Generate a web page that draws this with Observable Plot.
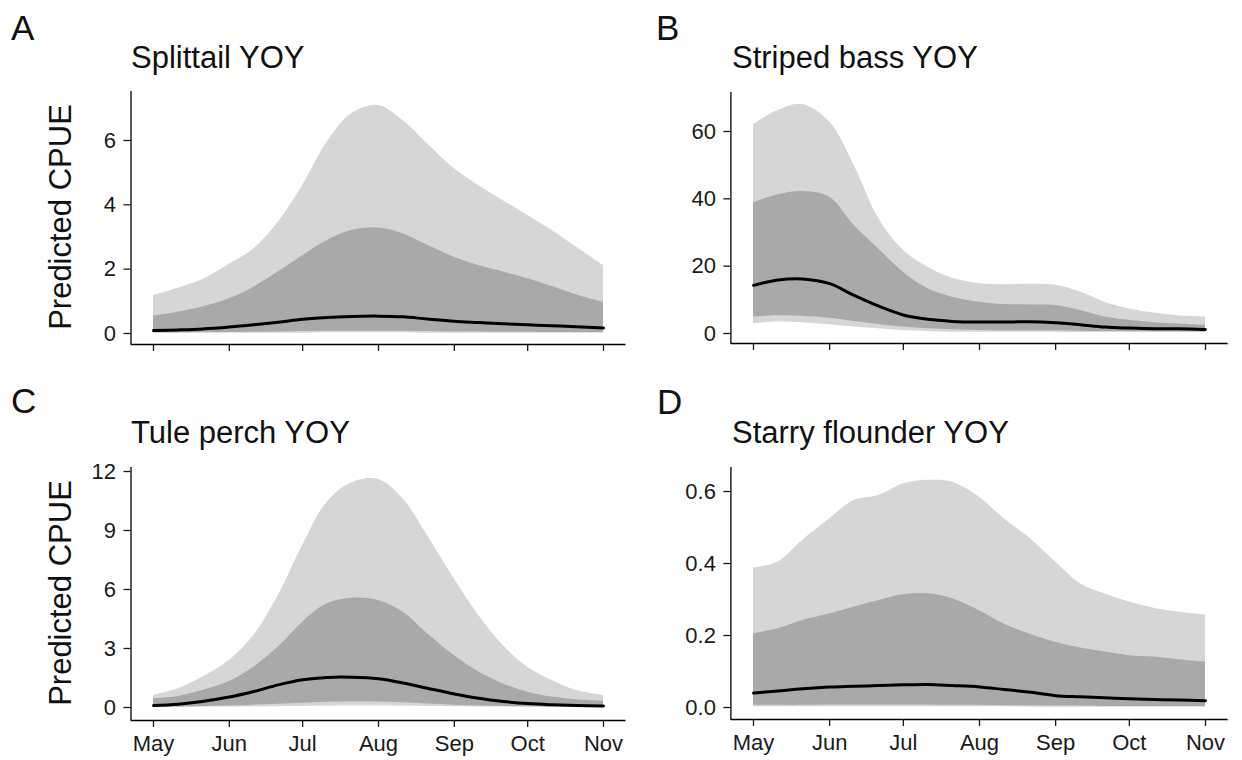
<!DOCTYPE html>
<html>
<head>
<meta charset="utf-8">
<script src="https://cdn.jsdelivr.net/npm/d3@7"></script>
<script src="https://cdn.jsdelivr.net/npm/@observablehq/plot@0.6"></script>
<style>
  html, body { margin: 0; padding: 0; background: #fff; }
  #root { position: relative; width: 1242px; height: 760px; overflow: hidden; background: #fff;
          font-family: "Liberation Sans", Arial, Helvetica, sans-serif; color: #111; }
  .abs { position: absolute; line-height: 1; white-space: nowrap; }
  .letter { font-size: 35px; }
  .title { font-size: 31px; }
  .ylab { font-size: 31px; transform: translate(-50%, -50%) rotate(-90deg); }
  .panel { position: absolute; }
</style>
</head>
<body>
<div id="root"></div>
<script>
// ---- shared x positions (days since 1 May) and month ticks ----
const days = [0, 10, 20, 31, 41, 51, 61, 71, 81, 92, 102, 112, 123, 133, 143, 153, 163, 173, 184];
const monthTicks = [0, 31, 61, 92, 123, 153, 184];
const monthLabels = ["May", "Jun", "Jul", "Aug", "Sep", "Oct", "Nov"];

// ---- panel titles ----
const panelLetters = ["A", "B", "C", "D"];
const panelTitles = ["Splittail YOY", "Striped bass YOY", "Tule perch YOY", "Starry flounder YOY"];
const yAxisTitle = "Predicted CPUE";

// ---- A: Splittail YOY ----
const splittailOuterLo = [0.01,0.01,0.01,0.01,0.01,0.01,0.01,0.02,0.02,0.02,0.02,0.01,0.01,0.01,0.01,0.01,0.01,0.01,0.01];
const splittailOuterHi = [1.18,1.41,1.67,2.15,2.63,3.46,4.60,5.95,6.83,7.09,6.62,5.90,5.12,4.60,4.13,3.67,3.20,2.68,2.11];
const splittailInnerLo = [0.02,0.02,0.03,0.03,0.04,0.05,0.06,0.07,0.07,0.07,0.07,0.06,0.05,0.05,0.04,0.04,0.03,0.03,0.03];
const splittailInnerHi = [0.54,0.66,0.82,1.08,1.44,1.91,2.42,2.89,3.20,3.28,3.10,2.74,2.37,2.11,1.91,1.70,1.46,1.20,0.97];
const splittailMedian  = [0.09,0.11,0.14,0.20,0.27,0.35,0.44,0.50,0.53,0.54,0.52,0.45,0.38,0.34,0.30,0.27,0.24,0.21,0.17];
const splittailTicks = [0, 2, 4, 6];

// ---- B: Striped bass YOY ----
const bassOuterLo = [2.9,3.4,3.2,2.6,1.9,1.4,0.9,0.6,0.4,0.4,0.4,0.4,0.4,0.3,0.3,0.3,0.3,0.3,0.3];
const bassOuterHi = [62.0,66.2,68.0,62.8,49.9,34.1,24.7,19.7,16.4,14.8,14.5,14.6,14.3,12.3,9.3,7.3,6.1,5.3,4.9];
const bassInnerLo = [4.9,5.3,5.1,4.5,3.6,2.7,1.9,1.4,1.1,0.9,0.8,0.8,0.8,0.7,0.6,0.6,0.5,0.5,0.5];
const bassInnerHi = [38.8,41.2,42.2,40.5,32.1,25.1,18.2,13.3,10.8,9.3,8.6,8.5,8.3,6.8,4.9,3.9,3.2,2.8,2.4];
const bassMedian  = [14.3,15.9,16.2,14.8,11.3,8.1,5.5,4.2,3.6,3.4,3.4,3.5,3.2,2.6,1.9,1.6,1.4,1.4,1.2];
const bassTicks = [0, 20, 40, 60];

// ---- C: Tule perch YOY ----
const perchOuterLo = [0.005,0.01,0.01,0.02,0.03,0.04,0.05,0.06,0.07,0.07,0.06,0.05,0.04,0.03,0.02,0.01,0.01,0.01,0.005];
const perchOuterHi = [0.61,0.95,1.54,2.39,3.66,5.69,8.24,10.44,11.42,11.59,10.61,8.74,6.54,4.68,3.15,2.05,1.37,0.86,0.61];
const perchInnerLo = [0.02,0.03,0.05,0.08,0.12,0.17,0.22,0.27,0.29,0.28,0.24,0.18,0.12,0.08,0.05,0.04,0.03,0.02,0.02];
const perchInnerHi = [0.44,0.56,0.86,1.32,2.05,3.07,4.34,5.27,5.56,5.44,4.85,3.75,2.64,1.80,1.20,0.78,0.53,0.39,0.31];
const perchMedian  = [0.10,0.17,0.31,0.53,0.81,1.15,1.41,1.53,1.54,1.46,1.25,0.98,0.69,0.47,0.31,0.20,0.14,0.10,0.08];
const perchTicks = [0, 3, 6, 9, 12];

// ---- D: Starry flounder YOY ----
const flounderOuterLo = [0.002,0.002,0.002,0.002,0.002,0.002,0.002,0.002,0.002,0.002,0.002,0.001,0.001,0.001,0.001,0.001,0.001,0.001,0.001];
const flounderOuterHi = [0.387,0.404,0.464,0.524,0.575,0.589,0.621,0.631,0.626,0.584,0.524,0.473,0.404,0.344,0.316,0.293,0.276,0.265,0.257];
const flounderInnerLo = [0.006,0.006,0.006,0.007,0.007,0.007,0.007,0.007,0.006,0.006,0.005,0.005,0.004,0.004,0.003,0.003,0.003,0.003,0.003];
const flounderInnerHi = [0.205,0.219,0.242,0.260,0.279,0.297,0.313,0.316,0.302,0.269,0.232,0.205,0.181,0.165,0.154,0.144,0.140,0.133,0.126];
const flounderMedian  = [0.040,0.046,0.052,0.057,0.059,0.061,0.063,0.064,0.061,0.057,0.050,0.043,0.033,0.030,0.027,0.024,0.022,0.021,0.019];
const flounderTicks = [0, 0.2, 0.4, 0.6];

const lightGrey = "#d6d6d6";
const darkGrey = "#a9a9a9";
const xDomain = [-9.2, 193.2];

const root = document.getElementById("root");

function addText(cls, text, left, top) {
  const d = document.createElement("div");
  d.className = "abs " + cls;
  d.textContent = text;
  d.style.left = left + "px";
  d.style.top = top + "px";
  root.appendChild(d);
}

function makePanel(cfg) {
  const rows = days.map((d, i) => ({
    day: d,
    oLo: cfg.oLo[i], oHi: cfg.oHi[i],
    iLo: cfg.iLo[i], iHi: cfg.iHi[i],
    med: cfg.med[i]
  }));
  const chart = Plot.plot({
    width: cfg.width,
    height: cfg.height,
    marginLeft: cfg.ml, marginRight: cfg.mr, marginTop: cfg.mt, marginBottom: cfg.mb,
    style: {background: "transparent", fontFamily: "'Liberation Sans', Arial, Helvetica, sans-serif", fontSize: "22px", color: "#1a1a1a", overflow: "visible"},
    x: {domain: xDomain},
    y: {domain: cfg.yDomain},
    marks: [
      Plot.areaY(rows, {x: "day", y1: "oLo", y2: "oHi", fill: lightGrey, curve: "catmull-rom"}),
      Plot.areaY(rows, {x: "day", y1: "iLo", y2: "iHi", fill: darkGrey, curve: "catmull-rom"}),
      Plot.lineY(rows, {x: "day", y: "med", stroke: "black", strokeWidth: 3, curve: "catmull-rom"}),
      Plot.ruleX([xDomain[0]], {stroke: "black", strokeWidth: 1.3}),
      Plot.ruleY([cfg.yDomain[0]], {stroke: "black", strokeWidth: 1.3}),
      Plot.axisX(monthTicks, {
        tickSize: 7, tickPadding: 8, strokeWidth: 1.3, label: null,
        tickFormat: cfg.showX ? (d => monthLabels[monthTicks.indexOf(d)]) : (() => "")
      }),
      Plot.axisY(cfg.ticks, {
        tickSize: 7, tickPadding: 8, strokeWidth: 1.3, label: null,
        tickFormat: cfg.fmt
      })
    ]
  });
  chart.classList.add("panel");
  chart.style.position = "absolute";
  chart.style.left = cfg.left + "px";
  chart.style.top = cfg.top + "px";
  root.appendChild(chart);
}

const intFmt = d3.format("d");
makePanel({left: 0, top: 80, width: 640, height: 276, ml: 130.5, mr: 14.5, mt: 11, mb: 12,
  yDomain: [-0.342, 7.523], ticks: splittailTicks, fmt: intFmt, showX: false,
  oLo: splittailOuterLo, oHi: splittailOuterHi, iLo: splittailInnerLo, iHi: splittailInnerHi, med: splittailMedian});
makePanel({left: 621, top: 80, width: 621, height: 276, ml: 109.4, mr: 14.4, mt: 12, mb: 13,
  yDomain: [-2.97, 71.58], ticks: bassTicks, fmt: intFmt, showX: false,
  oLo: bassOuterLo, oHi: bassOuterHi, iLo: bassInnerLo, iHi: bassInnerHi, med: bassMedian});
makePanel({left: 0, top: 455, width: 640, height: 305, ml: 130.5, mr: 14.5, mt: 12, mb: 40,
  yDomain: [-0.661, 12.203], ticks: perchTicks, fmt: intFmt, showX: true,
  oLo: perchOuterLo, oHi: perchOuterHi, iLo: perchInnerLo, iHi: perchInnerHi, med: perchMedian});
makePanel({left: 621, top: 455, width: 621, height: 305, ml: 109.4, mr: 14.4, mt: 12, mb: 41,
  yDomain: [-0.0333, 0.6667], ticks: flounderTicks, fmt: d3.format(".1f"), showX: true,
  oLo: flounderOuterLo, oHi: flounderOuterHi, iLo: flounderInnerLo, iHi: flounderInnerHi, med: flounderMedian});

// letters, titles, y-axis titles
addText("letter", panelLetters[0], 11, 9.5);
addText("letter", panelLetters[1], 656, 9.5);
addText("letter", panelLetters[2], 11, 382.5);
addText("letter", panelLetters[3], 657, 383.5);
addText("title", panelTitles[0], 131, 42);
addText("title", panelTitles[1], 732, 42);
addText("title", panelTitles[2], 131, 417);
addText("title", panelTitles[3], 732, 417);
addText("ylab", yAxisTitle, 60, 217);
addText("ylab", yAxisTitle, 60, 593);
</script>
</body>
</html>
